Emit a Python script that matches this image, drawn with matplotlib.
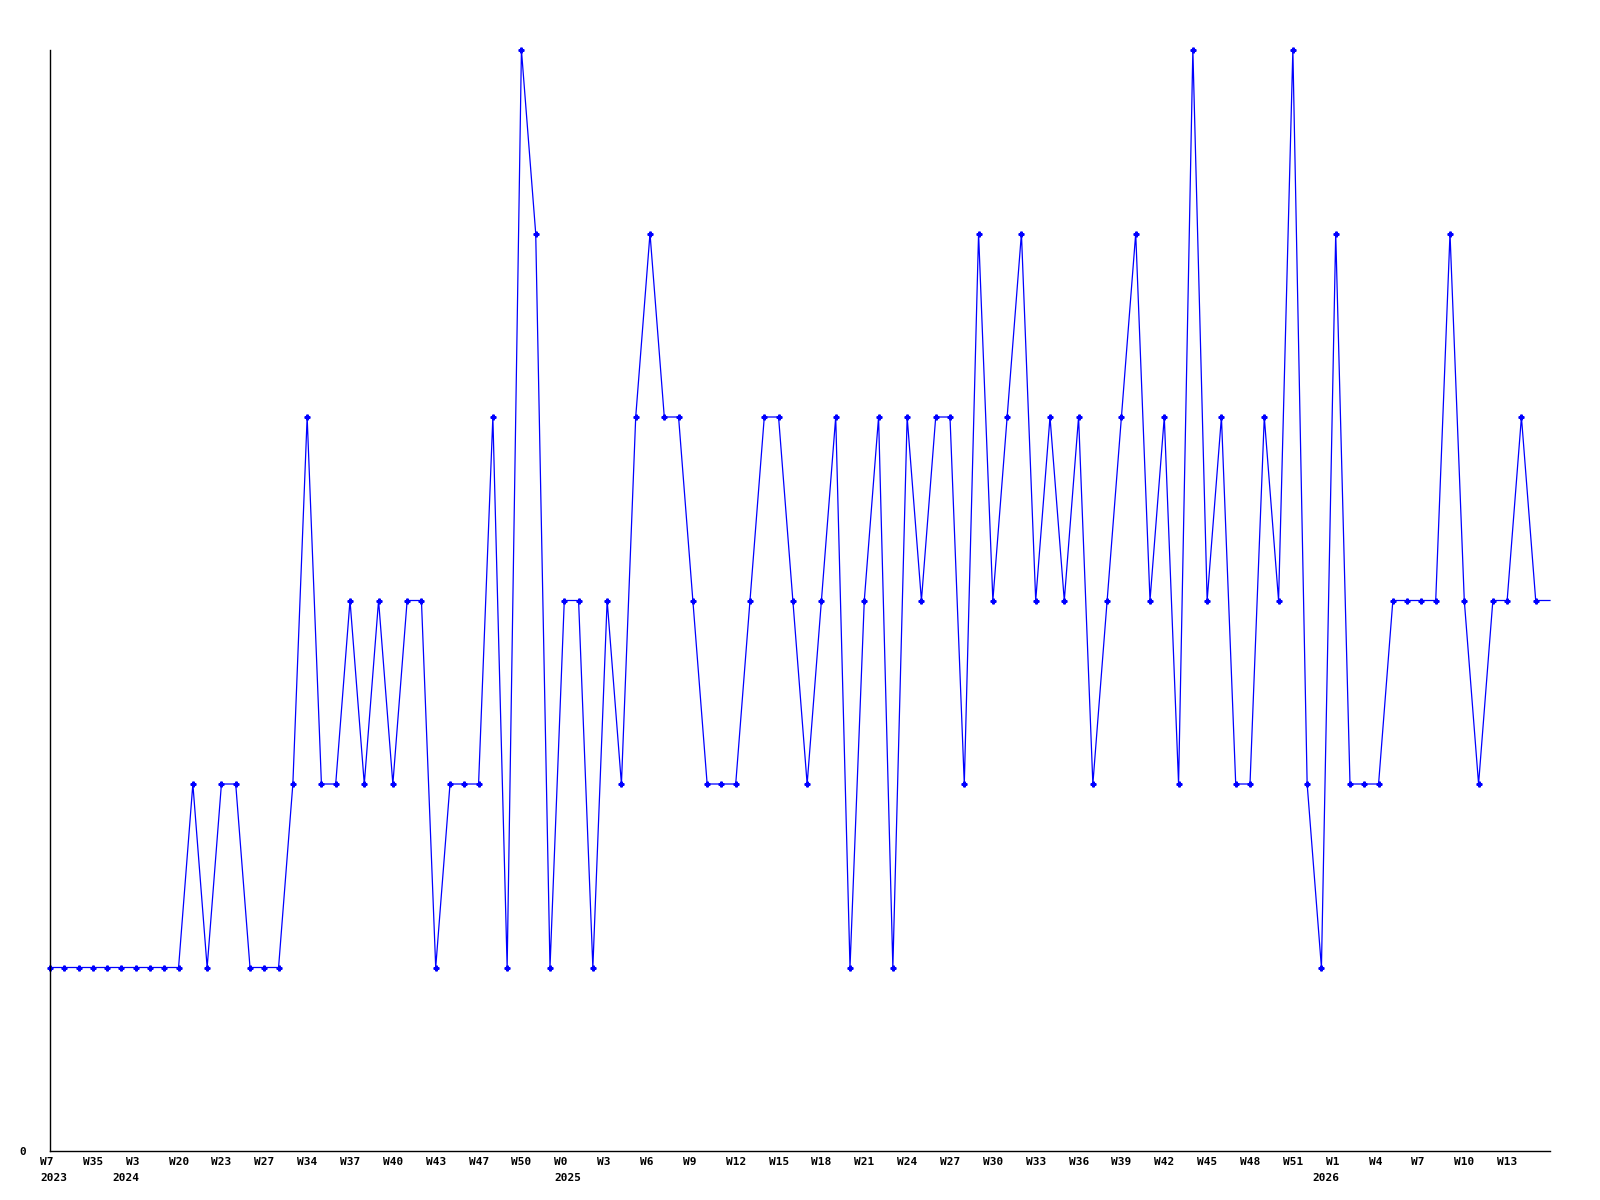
#!/usr/bin/env python3
"""Weekly count line chart, 2023 W7 .. 2026 W13 (category axis)."""

import matplotlib
matplotlib.use("Agg")
import matplotlib.pyplot as plt
import matplotlib.transforms as mtransforms

# one value per week slot, left to right
values = [
    1, 1, 1, 1, 1, 1, 1, 1, 1, 1,
    2, 1, 2, 2, 1, 1, 1, 2, 4, 2,
    2, 3, 2, 3, 2, 3, 3, 1, 2, 2,
    2, 4, 1, 6, 5, 1, 3, 3, 1, 3,
    2, 4, 5, 4, 4, 3, 2, 2, 2, 3,
    4, 4, 3, 2, 3, 4, 1, 3, 4, 1,
    4, 3, 4, 4, 2, 5, 3, 4, 5, 3,
    4, 3, 4, 2, 3, 4, 5, 3, 4, 2,
    6, 3, 4, 2, 2, 4, 3, 6, 2, 1,
    5, 2, 2, 2, 3, 3, 3, 3, 5, 3,
    2, 3, 3, 4, 3, 3,
]

# labels shown every third slot
week_labels = [
    "W7", "W35", "W3", "W20", "W23", "W27", "W34", "W37", "W40", "W43",
    "W47", "W50", "W0", "W3", "W6", "W9", "W12", "W15", "W18", "W21",
    "W24", "W27", "W30", "W33", "W36", "W39", "W42", "W45", "W48", "W51",
    "W1", "W4", "W7", "W10", "W13",
]
year_slots = [0, 6, 36, 90]
year_labels = ["2023", "2024", "2025", "2026"]

DPI = 100
fig = plt.figure(figsize=(16, 12), dpi=DPI)
ax = fig.add_axes([50 / 1600, 1 - 1151 / 1200, 1500 / 1600, 1101 / 1200])

x = list(range(len(values)))
ax.plot(x, values, color="#0000ff", linewidth=0.9, marker="P", markersize=3.5,
        markevery=list(range(len(values) - 1)), clip_on=False)

ax.set_xlim(0, len(values) - 1)
ax.set_ylim(0, 6)

for side in ("top", "right"):
    ax.spines[side].set_visible(False)
for side in ("left", "bottom"):
    ax.spines[side].set_color("black")
    ax.spines[side].set_linewidth(1.0)

font = dict(family="DejaVu Sans Mono", weight="bold", size=8)

ax.set_yticks([0])
ax.set_yticklabels(["0"], **font)
ax.tick_params(axis="y", length=0, pad=17)

ax.set_xticks(x[::3][:len(week_labels)])
ax.set_xticklabels(week_labels, ha="left", **font)
ax.tick_params(axis="x", length=0, pad=4.5)
shift = mtransforms.ScaledTranslation(-10 / DPI, 0, fig.dpi_scale_trans)
for lab in ax.get_xticklabels():
    lab.set_transform(lab.get_transform() + shift)

# year sits under the week label: flush left for 3-char weeks' neighbours,
# flush right under the 2-char "W3"/"W1" labels
char_w = 0.602 * 8 * DPI / 72
for slot, yr in zip(year_slots, year_labels):
    wk = week_labels[slot // 3]
    if slot in (6, 90):
        dx = -10 + len(wk) * char_w
        ha = "right"
    else:
        dx = -10
        ha = "left"
    tr = ax.get_xaxis_transform() + mtransforms.ScaledTranslation(dx / DPI, -22 / DPI, fig.dpi_scale_trans)
    ax.text(slot, 0, yr, transform=tr, ha=ha, va="top", **font)

fig.savefig("out.png", dpi=DPI, facecolor="white")
